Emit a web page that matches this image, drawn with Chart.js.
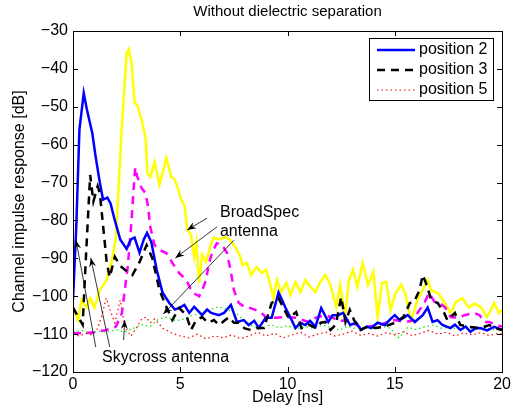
<!DOCTYPE html>
<html>
<head>
<meta charset="utf-8">
<script src="https://cdn.jsdelivr.net/npm/chart.js@4.4.1/dist/chart.umd.min.js"></script>
<style>
  body { margin: 0; background: #fff; }
  canvas { display: block; background: #fff; }
</style>
</head>
<body>
<canvas id="chart" width="514" height="413"></canvas>
<script>
// delay [ns] and response [dB], one pair of arrays per curve
const pos2Delay = [0, 0.15, 0.3, 0.5, 0.65, 0.9, 1.05, 1.25, 1.4, 1.6, 1.75, 1.95, 2.2, 2.5, 2.7, 2.87, 3.1, 3.3, 3.45, 3.65, 3.9, 4.17, 4.49, 4.75, 4.95, 5.19, 5.42, 5.65, 6.02, 6.25, 6.44, 6.8, 7.04, 7.36, 7.64, 7.96, 8.19, 8.45, 8.66, 8.98, 9.26, 9.58, 9.91, 10.14, 10.37, 10.6, 10.83, 11.05, 11.3, 11.57, 11.9, 12.1, 12.36, 12.59, 12.92, 13.2, 13.43, 13.7, 13.89, 14.2, 14.54, 14.8, 15.0, 15.23, 15.6, 15.93, 16.3, 16.53, 16.76, 16.99, 17.22, 17.59, 17.8, 18.06, 18.3, 18.52, 18.75, 18.98, 19.3, 19.63, 20];
const pos2Resp = [-101, -82, -56, -46.4, -50.8, -57, -63, -70, -74.5, -74, -75.5, -80, -85, -87.5, -85, -84.5, -88.5, -85, -83.3, -85.7, -93, -99, -101.8, -103.5, -103.1, -102.3, -104.4, -102.8, -105, -103.5, -104.4, -105, -104.4, -102.3, -106.8, -106.3, -107.6, -106.5, -108.4, -105.7, -105.7, -99, -103.1, -105.7, -108.4, -107, -107.6, -106.5, -108.1, -103.1, -106.8, -105, -105, -104.4, -107.6, -107, -108.9, -108, -108.4, -107, -107.6, -106, -105, -106.3, -105, -106.8, -105, -103, -106.8, -106.3, -107.6, -108.4, -107.5, -108.9, -108, -109.4, -108.5, -108.4, -109, -108.1, -108.9];

const pos3Delay = [0, 0.2, 0.45, 0.6, 0.8, 0.95, 1.15, 1.25, 1.39, 1.57, 1.71, 1.95, 2.2, 2.55, 2.77, 3.1, 3.43, 3.7, 4.03, 4.35, 4.63, 4.95, 5.28, 5.5, 5.74, 6.02, 6.3, 6.57, 6.8, 7.05, 7.27, 7.5, 7.73, 8.0, 8.29, 8.6, 8.9, 9.26, 9.58, 9.8, 10.05, 10.4, 10.65, 11.0, 11.3, 11.55, 11.76, 12.0, 12.25, 12.5, 12.7, 12.9, 13.1, 13.4, 13.75, 14.1, 14.5, 15.0, 15.4, 15.7, 15.9, 16.15, 16.3, 16.45, 16.7, 17.0, 17.3, 17.45, 17.8, 18.05, 18.5, 19.0, 19.4, 19.65, 20];
const pos3Resp = [-103, -105, -107.5, -90, -68, -75, -71, -72.8, -80.7, -91, -95, -89.6, -92, -93.6, -94.4, -91, -86.5, -90, -98.4, -102.8, -106.3, -103.1, -105, -108.9, -106.3, -105.5, -107, -106.3, -107.6, -106.5, -105.5, -107, -107, -108.5, -108.9, -108.4, -108.4, -101.8, -100.5, -103, -105.7, -104.2, -108.4, -107.5, -108.4, -107, -106.8, -108.9, -107.5, -100.2, -106.8, -103.6, -106.3, -108.9, -108, -108.4, -108.1, -107, -105.5, -101.8, -101.5, -98.4, -94.4, -96.5, -101, -101.8, -104.4, -106.3, -104.4, -107.6, -108.1, -108.4, -107.6, -108.4, -108.9];

const pos5Delay = [0, 0.3, 0.6, 0.9, 1.15, 1.35, 1.55, 1.75, 1.95, 2.2, 2.4, 2.7, 3.0, 3.2, 3.4, 3.6, 3.8, 4.2, 4.6, 5.0, 5.4, 5.8, 6.2, 6.6, 7.0, 7.4, 7.8, 8.2, 8.6, 9.0, 9.4, 9.8, 10.2, 10.6, 11.0, 11.4, 11.8, 12.2, 12.6, 13.0, 13.4, 13.8, 14.2, 14.6, 15.0, 15.4, 15.8, 16.2, 16.6, 17.0, 17.4, 17.8, 18.2, 18.6, 19.0, 19.4, 19.8, 20];
const pos5Resp = [-110, -110.5, -109.8, -110.2, -108.5, -105, -100.5, -104, -107, -101, -108, -110.5, -108, -106, -105.5, -107, -106, -108.5, -109.7, -110.5, -111, -110, -111.3, -110.5, -111, -110.2, -111.2, -110.5, -109.5, -110.5, -109.8, -111, -110.2, -109.5, -110.8, -110, -109.5, -110.5, -110, -109.2, -110.3, -109.8, -110.5, -109.6, -110.2, -109.4, -110.4, -109.8, -109, -110, -109.5, -110.5, -109.7, -110.2, -109.6, -110.4, -109.8, -110];

// BroadSpec antenna curves (no legend entry)
const bsYellowDelay = [0, 0.25, 0.4, 0.63, 0.8, 1.0, 1.25, 1.57, 1.8, 2.0, 2.1, 2.27, 2.5, 2.6, 2.73, 2.87, 3.0, 3.2, 3.38, 3.47, 3.6, 3.8, 4.03, 4.2, 4.35, 4.58, 4.72, 4.86, 5.05, 5.19, 5.33, 5.5, 5.65, 5.75, 5.88, 6.02, 6.2, 6.44, 6.57, 6.8, 7.1, 7.3, 7.6, 7.8, 7.9, 8.1, 8.3, 8.55, 8.8, 9.0, 9.2, 9.35, 9.5, 9.7, 9.95, 10.14, 10.37, 10.6, 10.83, 11.07, 11.3, 11.5, 11.76, 12.0, 12.27, 12.45, 12.68, 12.85, 13.06, 13.25, 13.5, 13.75, 14.0, 14.2, 14.4, 14.6, 14.8, 15.05, 15.3, 15.5, 15.74, 15.9, 16.05, 16.3, 16.53, 16.7, 17.0, 17.3, 17.6, 17.85, 18.15, 18.45, 18.7, 19.0, 19.3, 19.63, 19.85, 20];
const bsYellowResp = [-103, -106.3, -101, -103, -100.5, -103, -98.4, -95.7, -91, -84.4, -73.8, -56, -35.8, -34.8, -38.5, -49, -49.6, -53.5, -58.2, -67.5, -68.5, -64.6, -70.6, -67, -63.5, -68.5, -69, -71, -74.6, -75.9, -82.5, -83.8, -89.6, -86, -96.5, -89, -91, -86, -84.6, -85, -84.4, -85, -87.3, -89.6, -91.8, -91.2, -94.4, -92.3, -93.9, -93, -97, -100.5, -95.7, -98.9, -96.5, -99.7, -96.2, -98.9, -95.7, -97.5, -98.9, -96.5, -94.4, -97, -102.8, -97, -105.5, -96, -93, -97.5, -91.2, -97, -93.6, -105.5, -96.5, -96.2, -103.6, -99, -97, -99.5, -106.3, -104, -101, -98.4, -95.7, -98.5, -99.1, -101.5, -104.4, -101.5, -100.5, -103, -102, -102.8, -105.5, -101.8, -104.5, -103.5];

const bsMagentaDelay = [0, 0.5, 1.0, 1.5, 1.85, 2.0, 2.28, 2.4, 2.55, 2.73, 2.82, 2.9, 3.0, 3.2, 3.38, 3.5, 3.6, 3.8, 4.03, 4.35, 4.63, 4.95, 5.28, 5.56, 5.88, 6.05, 6.2, 6.34, 6.5, 6.7, 6.95, 7.18, 7.36, 7.5, 7.73, 8.05, 8.2, 8.5, 8.75, 8.98, 9.44, 9.9, 10.4, 10.97, 11.3, 11.76, 12.1, 12.5, 12.9, 13.4, 13.8, 14.3, 14.7, 15.0, 15.5, 15.9, 16.06, 16.4, 16.6, 16.85, 17.1, 17.35, 17.6, 17.95, 18.25, 18.7, 18.95, 19.15, 19.4, 19.7, 20];
const bsMagentaResp = [-109.7, -109.8, -109.5, -109, -108.4, -108, -104.4, -99, -92.3, -80, -72, -66, -68.5, -71.5, -72.8, -76.4, -81.7, -86.5, -87.8, -88.6, -91.2, -93.9, -95.7, -99, -100, -98, -95.7, -91.2, -88.3, -86, -86.5, -88.6, -93.6, -98.4, -101.8, -103, -103, -103.6, -104.2, -105.5, -105.7, -105.5, -105.7, -106.8, -105.7, -105, -105.7, -106.5, -106.3, -108.4, -108, -107.6, -106.8, -106.3, -106.8, -106.3, -104.4, -101.5, -99.1, -101.5, -101.8, -103, -105.5, -105.7, -105, -104.4, -105, -106.8, -106.8, -107.6, -108];

const bsGreenDelay = [0, 0.4, 0.8, 1.2, 1.6, 2.0, 2.4, 2.8, 3.2, 3.6, 4.0, 4.4, 4.8, 5.2, 5.6, 6.0, 6.4, 6.8, 7.2, 7.6, 8.0, 8.4, 8.8, 9.2, 9.6, 10.0, 10.4, 10.8, 11.2, 11.6, 12.0, 12.4, 12.8, 13.2, 13.6, 14.0, 14.4, 14.8, 15.2, 15.6, 16.0, 16.4, 16.8, 17.2, 17.6, 18.0, 18.4, 18.8, 19.2, 19.6, 20];
const bsGreenResp = [-109.5, -109, -109.8, -109.2, -109.5, -108.8, -109.5, -108.5, -107.5, -108, -106, -105.5, -106.5, -106, -105, -104.5, -103.5, -102.8, -103.5, -104.5, -106.5, -108, -108.5, -107.5, -108.3, -107.8, -108.6, -108, -108.4, -107.6, -108.2, -109, -107.9, -108.6, -108.1, -108.7, -108, -108.5, -111, -108.2, -108.8, -108, -107.6, -108.5, -108.1, -108.9, -108.2, -108.7, -108.3, -108.9, -108.5];

const xTicks = [0, 5, 10, 15, 20];
const yTicks = [-120, -110, -100, -90, -80, -70, -60, -50, -40, -30];

// annotation arrows in data units: [tailX, tailY, headX, headY]
const broadSpecArrows = [[6.25, -79.4, 5.32, -82.5], [6.71, -81.7, 4.77, -89.9], [7.5, -85.2, 4.21, -104.7]];
const skycrossArrows = [[1.06, -113.4, 0.14, -85.2], [1.71, -113.4, 0.83, -89.9], [2.36, -111.6, 2.41, -106.3]];

const FONT = '"Liberation Sans", Arial, Helvetica, sans-serif';

function pts(xs, ys) {
  return xs.map((x, i) => ({ x, y: ys[i] }));
}

function arrow(ctx, x0, y0, x1, y1) {
  const ang = Math.atan2(y1 - y0, x1 - x0);
  ctx.beginPath();
  ctx.moveTo(x0, y0);
  ctx.lineTo(x1, y1);
  ctx.stroke();
  ctx.beginPath();
  ctx.moveTo(x1, y1);
  ctx.lineTo(x1 - 9 * Math.cos(ang) + 3.5 * Math.sin(ang), y1 - 9 * Math.sin(ang) - 3.5 * Math.cos(ang));
  ctx.lineTo(x1 - 6 * Math.cos(ang), y1 - 6 * Math.sin(ang));
  ctx.lineTo(x1 - 9 * Math.cos(ang) - 3.5 * Math.sin(ang), y1 - 9 * Math.sin(ang) + 3.5 * Math.cos(ang));
  ctx.closePath();
  ctx.fill();
}

const matlabFrame = {
  id: 'matlabFrame',
  afterDraw(chart) {
    const { ctx, chartArea: a } = chart;
    const xs = chart.scales.x;
    const ys = chart.scales.y;
    ctx.save();
    ctx.strokeStyle = '#000';
    ctx.fillStyle = '#000';
    ctx.lineWidth = 1;

    // box and inward ticks on all sides
    ctx.strokeRect(Math.round(a.left) + 0.5, Math.round(a.top) + 0.5,
      Math.round(a.right - a.left), Math.round(a.bottom - a.top));
    ctx.beginPath();
    xTicks.forEach((t) => {
      const px = Math.round(xs.getPixelForValue(t)) + 0.5;
      ctx.moveTo(px, a.bottom); ctx.lineTo(px, a.bottom - 5);
      ctx.moveTo(px, a.top); ctx.lineTo(px, a.top + 5);
    });
    yTicks.forEach((t) => {
      const py = Math.round(ys.getPixelForValue(t)) + 0.5;
      ctx.moveTo(a.left, py); ctx.lineTo(a.left + 5, py);
      ctx.moveTo(a.right, py); ctx.lineTo(a.right - 5, py);
    });
    ctx.stroke();

    // titles
    ctx.font = '15px ' + FONT;
    ctx.textAlign = 'center';
    ctx.textBaseline = 'middle';
    ctx.fillText('Without dielectric separation', (a.left + a.right) / 2, 12);
    ctx.font = '16px ' + FONT;
    ctx.fillText('Delay [ns]', (a.left + a.right) / 2, 398);
    ctx.save();
    ctx.translate(20, (a.top + a.bottom) / 2);
    ctx.rotate(-Math.PI / 2);
    ctx.fillText('Channel impulse response [dB]', 0, 0);
    ctx.restore();

    // annotations
    ctx.lineWidth = 0.8;
    broadSpecArrows.concat(skycrossArrows).forEach(([x0, y0, x1, y1]) => {
      arrow(ctx, xs.getPixelForValue(x0), ys.getPixelForValue(y0),
        xs.getPixelForValue(x1), ys.getPixelForValue(y1));
    });
    ctx.textAlign = 'left';
    ctx.fillText('BroadSpec', xs.getPixelForValue(6.85), ys.getPixelForValue(-78));
    ctx.fillText('antenna', xs.getPixelForValue(6.85), ys.getPixelForValue(-83));
    ctx.fillText('Skycross antenna', xs.getPixelForValue(1.35), ys.getPixelForValue(-116.1));

    // legend box
    const lw = 124, lh = 62;
    const lx = Math.round(a.right) - 9 - lw, ly = Math.round(a.top) + 7;
    ctx.fillStyle = '#fff';
    ctx.fillRect(lx, ly, lw, lh);
    ctx.lineWidth = 1;
    ctx.strokeStyle = '#000';
    ctx.strokeRect(lx + 0.5, ly + 0.5, lw, lh);
    chart.data.datasets.filter((d) => d.label).forEach((d, i) => {
      const yy = ly + 12 + i * 20;
      ctx.strokeStyle = d.borderColor;
      ctx.lineWidth = d.borderWidth;
      ctx.setLineDash(d.borderDash || []);
      ctx.beginPath();
      ctx.moveTo(lx + 8, yy);
      ctx.lineTo(lx + 46, yy);
      ctx.stroke();
      ctx.setLineDash([]);
      ctx.fillStyle = '#000';
      ctx.fillText(d.label, lx + 50, yy);
    });
    ctx.restore();
  },
};

Chart.defaults.font.family = FONT;
Chart.defaults.font.size = 16;
Chart.defaults.color = '#000';

new Chart(document.getElementById('chart'), {
  type: 'line',
  data: {
    datasets: [
      { label: 'position 2', data: pts(pos2Delay, pos2Resp), borderColor: '#0000ff', borderWidth: 2.5, order: 1 },
      { label: 'position 3', data: pts(pos3Delay, pos3Resp), borderColor: '#000000', borderWidth: 2.5, borderDash: [8, 6], order: 0 },
      { label: 'position 5', data: pts(pos5Delay, pos5Resp), borderColor: '#ff0000', borderWidth: 1.2, borderDash: [1.5, 3], order: 4 },
      { data: pts(bsYellowDelay, bsYellowResp), borderColor: '#ffff00', borderWidth: 2.5, order: 3 },
      { data: pts(bsMagentaDelay, bsMagentaResp), borderColor: '#ff00ff', borderWidth: 2.5, borderDash: [8, 6], order: 2 },
      { data: pts(bsGreenDelay, bsGreenResp), borderColor: '#00ee00', borderWidth: 1.2, borderDash: [1.5, 3], order: 5 },
    ],
  },
  options: {
    responsive: false,
    animation: false,
    layout: { padding: { top: 31, right: 9, left: 0, bottom: 0 } },
    elements: { point: { radius: 0 }, line: { tension: 0, fill: false } },
    plugins: { legend: { display: false }, tooltip: { enabled: false }, title: { display: false } },
    scales: {
      x: {
        type: 'linear',
        min: 0,
        max: 20,
        afterBuildTicks(s) { s.ticks = xTicks.map((v) => ({ value: v })); },
        ticks: { padding: 3, maxRotation: 0 },
        grid: { display: false, drawTicks: false },
        border: { display: false },
        afterFit(s) { s.height = 41; },
      },
      y: {
        type: 'linear',
        min: -120,
        max: -30,
        afterBuildTicks(s) { s.ticks = yTicks.map((v) => ({ value: v })); },
        ticks: { padding: 5, callback: (v) => String(v).replace('-', '\u2212') },
        grid: { display: false, drawTicks: false },
        border: { display: false },
        afterFit(s) { s.width = 73; },
      },
    },
  },
  plugins: [matlabFrame],
});
</script>
</body>
</html>
